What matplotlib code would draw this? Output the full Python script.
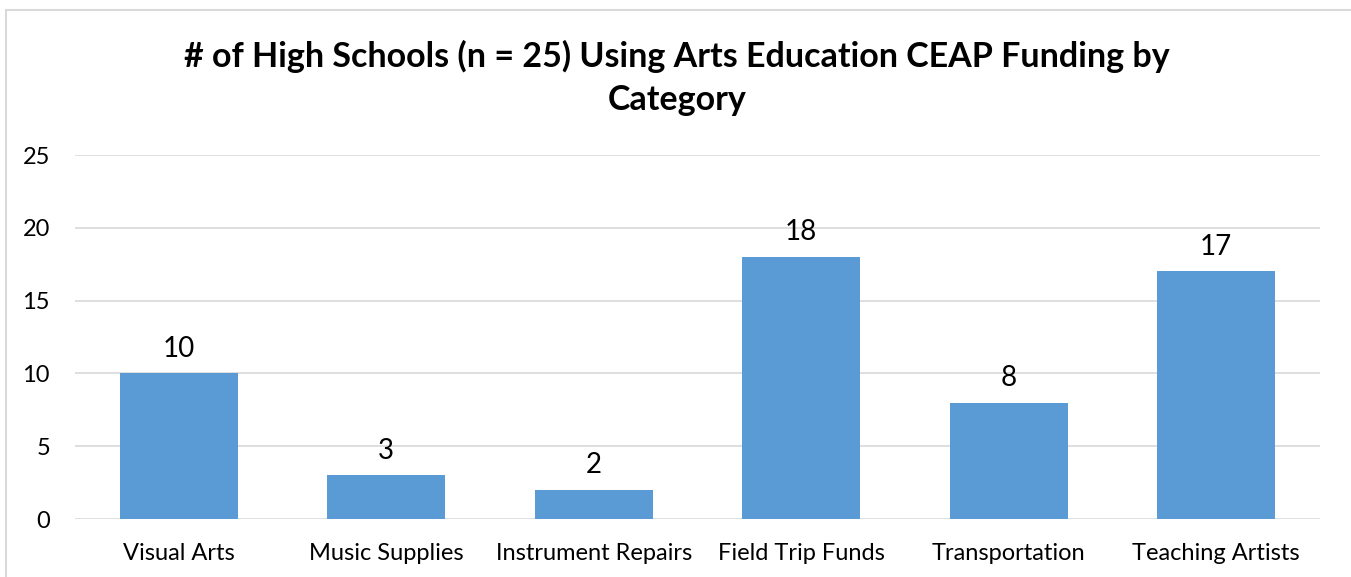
import matplotlib.pyplot as plt
from matplotlib.patches import Rectangle

# === Dati ===
categories = ["Visual Arts", "Music Supplies", "Instrument Repairs", "Field Trip Funds", "Transportation", "Teaching Artists"]
values = [10, 3, 2, 18, 8, 17]
y_ticks = [0, 5, 10, 15, 20, 25]
title = "# of High Schools (n = 25) Using Arts Education CEAP Funding by\nCategory"

plt.rcParams["font.family"] = ["Lato", "DejaVu Sans"]

fig = plt.figure(figsize=(13.51, 5.77), dpi=100)
ax = fig.add_axes([75 / 1351, 1 - 519 / 577, (1320 - 75) / 1351, (519 - 155) / 577])

x = range(len(categories))
bars = ax.bar(x, values, width=0.57, color="#5B9BD5", zorder=3)

for b, v in zip(bars, values):
    ax.text(b.get_x() + b.get_width() / 2, v + 0.8, str(v), ha="center", va="bottom",
            fontsize=20, color="#000000")

ax.set_xlim(-0.5, len(categories) - 0.5)
ax.set_ylim(0, 25)
ax.set_yticks(y_ticks)
ax.set_xticks(list(x))
ax.set_xticklabels(categories)
ax.tick_params(axis="both", length=0, labelsize=17, colors="#000000")
ax.tick_params(axis="x", pad=17)
ax.tick_params(axis="y", pad=18)
ax.grid(axis="y", color="#D9D9D9", linewidth=1.2, zorder=0)
for s in ax.spines.values():
    s.set_visible(False)

fig.text(677 / 1351, 1 - 78 / 577, title, ha="center", va="center", fontsize=24.5,
         fontweight="bold", linespacing=1.45)

# bordo del grafico
fig.patches.append(Rectangle((6 / 1351, -0.1), 1.2, 1 - 10 / 577 + 0.1, transform=fig.transFigure,
                             fill=False, edgecolor="#D9D9D9", linewidth=1.5))

fig.savefig("out.png", dpi=100)
plt.close(fig)
